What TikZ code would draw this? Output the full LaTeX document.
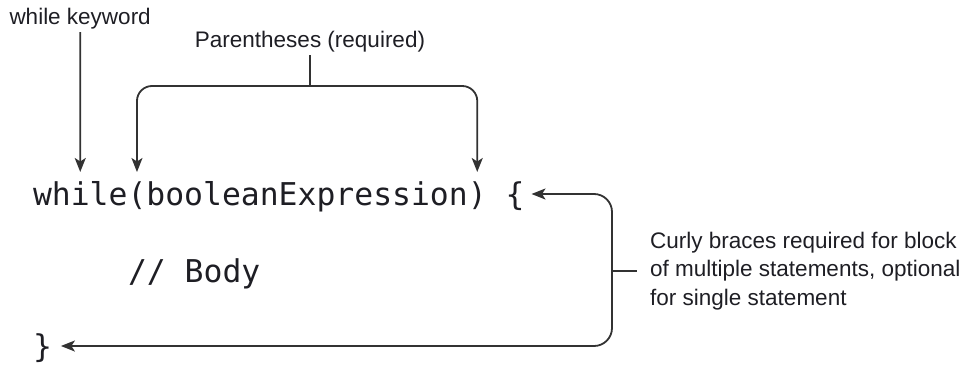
\documentclass[tikz,border=0pt]{standalone}
\usepackage{fontspec}
\setmainfont{Liberation Sans}
\newfontfamily\codefont{DejaVu Sans Mono}
\usepackage{tikz}
\usetikzlibrary{arrows.meta,positioning,calc}
\definecolor{ink}{RGB}{30,30,36}
\definecolor{wire}{RGB}{50,50,50}
\tikzset{
  lbl/.style={font=\fontsize{22.5}{28.5}\selectfont,text=ink,inner sep=3.3pt},
  code/.style={font=\fontsize{31.4}{36}\selectfont\codefont,text=ink,inner xsep=0pt,inner ysep=7pt,outer sep=0pt,text height=26pt,text depth=4pt},
  arr/.style={draw=wire,line width=1.8pt,-{Stealth[length=14pt,width=11pt,inset=3.5pt]}},
  barr/.style={draw=wire,line width=1.8pt,{Stealth[length=14pt,width=11pt,inset=3.5pt]}-{Stealth[length=14pt,width=11pt,inset=3.5pt]}},
  tick/.style={draw=wire,line width=1.8pt}
}
\begin{document}
\begin{tikzpicture}[x=1pt,y=-1pt]
\useasboundingbox (0,0) rectangle (973,364);
% code lines
\node[code,anchor=base west] (kw) at (33,205) {while};
\node[code,base right=0pt of kw] (lp) {(};
\node[code,base right=0pt of lp] (ex) {booleanExpression};
\node[code,base right=0pt of ex] (rp) {)};
\node[code,base right=0pt of rp] (lb) {\hphantom{x}\{};
\node[code,anchor=base west] (body) at (128,282) {// Body};
\node[code,anchor=base west] (rb) at (33,357) {\}};
% labels
\node[lbl,anchor=base west] (kwlbl) at (6,24) {while keyword};
\node[lbl,anchor=base] (plbl) at (310,47) {Parentheses (required)};
\node[lbl,anchor=west,align=left,inner xsep=0pt] (note) at (650,271)
  {Curly braces required for block\\of multiple statements, optional\\for single statement};
\coordinate (pstem) at (310,86);
\coordinate (brk) at (612,271);
% connectors
\draw[arr] (kwlbl.south) -- (kw.north);
\draw[tick] (plbl.south) -- (pstem);
\draw[barr,rounded corners=15pt] (lp.north) |- (pstem) -| (rp.north);
\draw[barr,rounded corners=18pt,shorten <=7pt,shorten >=9pt] (lb.east) -- (lb.east -| brk) -- (rb.east -| brk) -- (rb.east);
\draw[tick] (brk) -- ([xshift=-13pt]note.west);
\end{tikzpicture}
\end{document}
